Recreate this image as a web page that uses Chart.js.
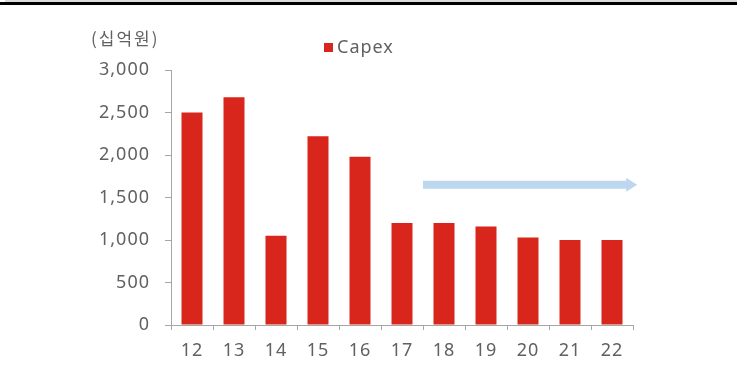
<!DOCTYPE html>
<html>
<head>
<meta charset="utf-8">
<script src="https://cdn.jsdelivr.net/npm/chart.js@4.4.0/dist/chart.umd.min.js"></script>
<style>
  html, body { margin: 0; padding: 0; background: #fff; }
  #wrap { position: relative; width: 737px; height: 374px; overflow: hidden; }
  .band { position: absolute; left: 5px; top: 0; width: 732px; height: 2px; background: #dcdcdc; }
  .rule { position: absolute; left: 0; top: 2px; width: 737px; height: 3px; background: #000; }
  #chart { position: absolute; left: 0; top: 0; }
</style>
</head>
<body>
<div id="wrap">
  <canvas id="chart" width="737" height="374"></canvas>
  <div class="band"></div>
  <div class="rule"></div>
</div>
<script>
// data
const years = ['12', '13', '14', '15', '16', '17', '18', '19', '20', '21', '22'];
const capex = [2500, 2680, 1050, 2220, 1980, 1200, 1200, 1160, 1030, 1000, 1000];
const yTicks = [0, 500, 1000, 1500, 2000, 2500, 3000];
const unitLabel = '(십억원)';
const seriesName = 'Capex';

// trend arrow (category index from/to, value level)
const arrowFrom = 5.5;
const arrowTo = 10.6;
const arrowLevel = 1650;

const textColor = '#616161';
const axisColor = '#a6a6a6';
const barColor = '#d9261c';

const extras = {
    id: 'extras',
    beforeDraw(chart) {
        // the source font is a bit wider than Noto Sans
        chart.ctx.letterSpacing = '1px';
    },
    afterDatasetsDraw(chart) {
        const { ctx, scales } = chart;
        const x1 = scales.x.getPixelForValue(arrowFrom);
        const x2 = scales.x.getPixelForValue(arrowTo);
        const y = scales.y.getPixelForValue(arrowLevel);

        // arrow
        ctx.save();
        ctx.fillStyle = '#bdd7ee';
        ctx.fillRect(x1, y - 4, x2 - x1 - 9, 8);
        ctx.beginPath();
        ctx.moveTo(x2 - 11, y - 7);
        ctx.lineTo(x2, y);
        ctx.lineTo(x2 - 11, y + 7);
        ctx.closePath();
        ctx.fill();

        // unit
        ctx.fillStyle = textColor;
        ctx.font = '17px "Noto Sans CJK KR", "Noto Sans", sans-serif';
        ctx.letterSpacing = '2px';
        ctx.textBaseline = 'middle';
        ctx.textAlign = 'left';
        ctx.fillText(unitLabel, 91, 39);

        // legend
        const ds = chart.data.datasets[0];
        ctx.fillStyle = ds.backgroundColor;
        ctx.fillRect(324, 43, 9, 9);
        ctx.fillStyle = textColor;
        ctx.font = '18px "Noto Sans", sans-serif';
        ctx.letterSpacing = '1px';
        ctx.fillText(ds.label, 337, 48);
        ctx.restore();
    }
};

new Chart(document.getElementById('chart'), {
    type: 'bar',
    data: {
        labels: years,
        datasets: [{
            label: seriesName,
            data: capex,
            backgroundColor: barColor,
            barPercentage: 0.5,
            categoryPercentage: 1.0
        }]
    },
    options: {
        responsive: false,
        animation: false,
        layout: { padding: { top: 70, right: 104, bottom: 0, left: 0 } },
        plugins: {
            legend: { display: false },
            tooltip: { enabled: false }
        },
        scales: {
            x: {
                afterFit: (scale) => { scale.height = 49; },
                grid: { drawOnChartArea: false, tickLength: 5, color: axisColor },
                border: { color: axisColor },
                ticks: {
                    color: textColor,
                    padding: 10,
                    font: { family: '"Noto Sans", sans-serif', size: 18 }
                }
            },
            y: {
                min: 0,
                max: 3000,
                afterFit: (scale) => { scale.width = 171; },
                afterBuildTicks: (scale) => { scale.ticks = yTicks.map(v => ({ value: v })); },
                grid: { drawOnChartArea: false, tickLength: 6, color: axisColor },
                border: { color: axisColor },
                ticks: {
                    color: textColor,
                    padding: 15,
                    font: { family: '"Noto Sans", sans-serif', size: 18 },
                    callback: (v) => v.toLocaleString('en-US')
                }
            }
        }
    },
    plugins: [extras]
});
</script>
</body>
</html>
